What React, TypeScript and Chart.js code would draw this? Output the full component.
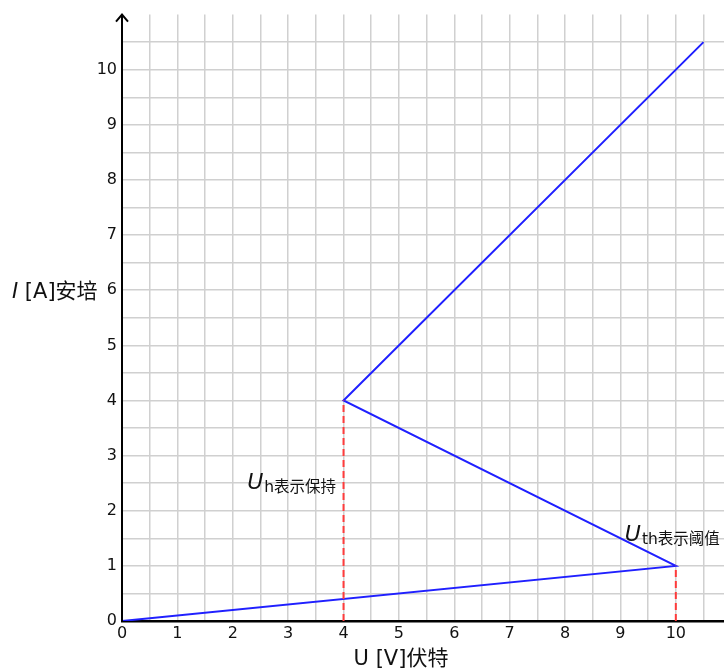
import React, { useEffect, useRef } from "react";
import { Chart, registerables } from "chart.js";

Chart.register(...registerables);

const curveX = [0, 10, 4, 10.5];
const curveY = [0, 1, 4, 10.5];
const holdX = [4, 4];
const holdY = [0, 4];
const thresholdX = [10, 10];
const thresholdY = [0, 1];
const gridTicks = [0, 0.5, 1, 1.5, 2, 2.5, 3, 3.5, 4, 4.5, 5, 5.5, 6, 6.5, 7, 7.5, 8, 8.5, 9, 9.5, 10, 10.5];
const xTitle = ["U [V]伏特"];
const yTitleItalic = "I";
const yTitleRest = " [A]安培";
const annotations = [
  { main: "U", sub: "h表示保持", x: 2.26, y: 2.4 },
  { main: "U", sub: "th表示阈值", x: 9.08, y: 1.46 },
];

const FONT = "'DejaVu Sans', 'Noto Sans CJK SC', sans-serif";

const toPts = (xs: number[], ys: number[]) => xs.map((x, i) => ({ x, y: ys[i] }));

const textPlugin = {
  id: "textPlugin",
  afterDraw(chart: any) {
    const ctx = chart.ctx;
    const xs = chart.scales.x;
    const ys = chart.scales.y;
    const area = chart.chartArea;
    ctx.save();
    // arrow on y axis
    ctx.strokeStyle = "#000";
    ctx.lineWidth = 2;
    ctx.beginPath();
    ctx.moveTo(area.left - 6, area.top + 7);
    ctx.lineTo(area.left, area.top);
    ctx.lineTo(area.left + 6, area.top + 7);
    ctx.stroke();
    ctx.beginPath();
    ctx.moveTo(area.left, area.top + 1);
    ctx.lineTo(area.left, area.bottom);
    ctx.stroke();

    ctx.fillStyle = "#111";
    ctx.textBaseline = "alphabetic";
    ctx.textAlign = "left";
    // annotations
    for (const a of annotations) {
      const px = xs.getPixelForValue(a.x);
      const py = ys.getPixelForValue(a.y);
      ctx.font = `italic 22px ${FONT}`;
      ctx.fillText(a.main, px, py);
      const w = ctx.measureText(a.main).width;
      ctx.font = `15.5px ${FONT}`;
      ctx.fillText(a.sub, px + w + 1, py + 3);
    }
    // x title
    ctx.font = `21px ${FONT}`;
    ctx.textAlign = "center";
    ctx.fillText(xTitle[0], 401, 665);
    // y title
    ctx.textAlign = "left";
    const yc = ys.getPixelForValue(6) + 8;
    ctx.font = `italic 21px ${FONT}`;
    ctx.fillText(yTitleItalic, 12, yc);
    const wi = ctx.measureText(yTitleItalic).width;
    ctx.font = `21px ${FONT}`;
    ctx.fillText(yTitleRest, 12 + wi, yc);
    ctx.restore();
  },
};

export default function App() {
  const ref = useRef<HTMLCanvasElement | null>(null);
  useEffect(() => {
    document.body.style.margin = "0";
    const setTicks = (s: any) => {
      s.ticks = gridTicks.map((v) => ({ value: v }));
    };
    const label = (v: any) => (Number.isInteger(v) ? String(v) : "");
    const chart = new Chart(ref.current!, {
      type: "scatter",
      data: {
        datasets: [
          {
            data: toPts(holdX, holdY),
            showLine: true,
            borderColor: "#ff3b3b",
            borderWidth: 2,
            borderDash: [7, 4],
            pointRadius: 0,
          },
          {
            data: toPts(thresholdX, thresholdY),
            showLine: true,
            borderColor: "#ff3b3b",
            borderWidth: 2,
            borderDash: [7, 4],
            pointRadius: 0,
          },
          {
            data: toPts(curveX, curveY),
            showLine: true,
            borderColor: "#2020ff",
            borderWidth: 2,
            pointRadius: 0,
            tension: 0,
          },
        ],
      },
      options: {
        animation: false,
        responsive: false,
        events: [],
        layout: { padding: { top: 11, right: 0, left: 0, bottom: 0 } },
        plugins: { legend: { display: false }, tooltip: { enabled: false } },
        scales: {
          x: {
            type: "linear",
            min: 0,
            max: 10.87,
            afterBuildTicks: setTicks,
            afterFit: (s: any) => {
              s.height = 47;
            },
            grid: { color: "#d0d0d0", lineWidth: 1.5, drawTicks: false },
            border: { color: "#000", width: 2.5 },
            ticks: {
              callback: label,
              autoSkip: false,
              maxRotation: 0,
              padding: 3,
              color: "#111",
              font: { family: FONT, size: 16 },
            },
          },
          y: {
            type: "linear",
            min: 0,
            max: 11,
            afterBuildTicks: setTicks,
            afterFit: (s: any) => {
              s.width = 122;
            },
            grid: { color: "#d0d0d0", lineWidth: 1.5, drawTicks: false },
            border: { color: "#000", width: 2 },
            ticks: {
              callback: label,
              autoSkip: false,
              padding: 5,
              color: "#111",
              font: { family: FONT, size: 16 },
            },
          },
        },
      } as any,
      plugins: [textPlugin],
    });
    return () => chart.destroy();
  }, []);
  return (
    <div style={{ width: 724, height: 668 }}>
      <canvas ref={ref} width={724} height={668} style={{ display: "block" }} />
    </div>
  );
}
